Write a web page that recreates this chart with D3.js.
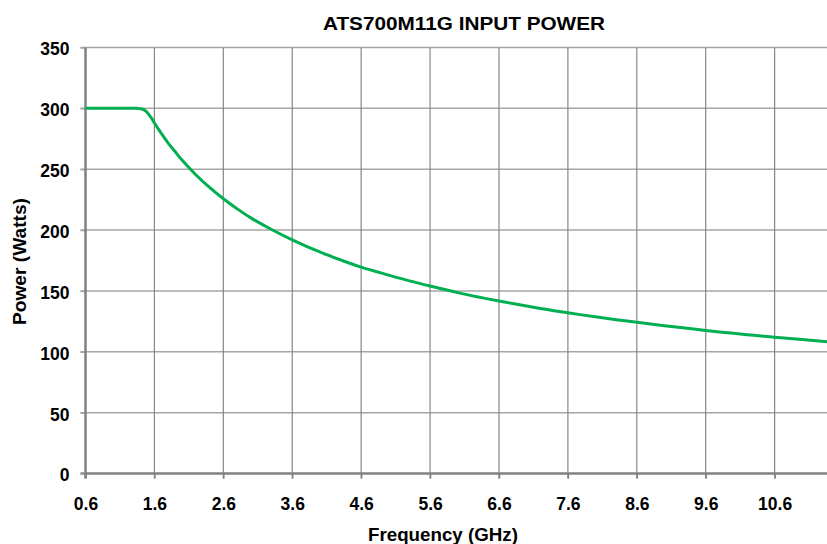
<!DOCTYPE html>
<html>
<head>
<meta charset="utf-8">
<script src="https://cdn.jsdelivr.net/npm/d3@7"></script>
<style>
  html, body { margin: 0; padding: 0; background: #fff; }
  svg { display: block; }
  text { font-family: "Liberation Sans", Arial, sans-serif; font-weight: bold; fill: #000; }
</style>
</head>
<body>
<svg id="chart" width="827" height="544"></svg>
<script>
// ---- data ----
const title = "ATS700M11G INPUT POWER";
const xTitle = "Frequency (GHz)";
const yTitle = "Power (Watts)";
const freqGHz = [0.6, 0.8, 1.0, 1.2, 1.35, 1.42, 1.48, 1.55, 1.6, 1.7, 1.8, 1.9, 2.0, 2.2, 2.4, 2.6, 2.8, 3.0, 3.3, 3.6, 4.0, 4.3, 4.6, 5.0, 5.3, 5.6, 6.0, 6.3, 6.6, 7.0, 7.3, 7.6, 8.0, 8.3, 8.6, 9.0, 9.3, 9.6, 10.0, 10.3, 10.6, 11.0, 11.4];
const powerW  = [300, 300, 300, 300, 300, 299.5, 297.5, 292.5, 288, 279.5, 271.5, 264.5, 257.5, 245.5, 235, 225.7, 217.5, 210, 200.5, 192, 182, 175.5, 169.5, 163, 158.3, 154, 148.6, 145, 141.7, 137.6, 134.7, 132, 128.7, 126.4, 124.2, 121.4, 119.5, 117.5, 115.2, 113.5, 112, 110, 108];
const xTicks = [0.6, 1.6, 2.6, 3.6, 4.6, 5.6, 6.6, 7.6, 8.6, 9.6, 10.6];
const yTicks = [0, 50, 100, 150, 200, 250, 300, 350];
const xDomain = [0.6, 11.36];
const yDomain = [0, 350];

// ---- layout ----
const svg = d3.select("#chart");
const mLeft = 85.5, mRight = 827, mTop = 47.5, mBottom = 473.5;

const x = d3.scaleLinear().domain(xDomain).range([mLeft, mRight]);
const y = d3.scaleLinear().domain(yDomain).range([mBottom, mTop]);

// horizontal gridlines
svg.append("g").selectAll("line").data(yTicks.filter(d => d > 0)).join("line")
  .attr("x1", mLeft - 5).attr("x2", mRight)
  .attr("y1", d => y(d)).attr("y2", d => y(d))
  .attr("stroke", "#a6a6a6").attr("stroke-width", 1.5);

// vertical gridlines
svg.append("g").selectAll("line").data(xTicks.filter(d => d > xDomain[0])).join("line")
  .attr("x1", d => x(d)).attr("x2", d => x(d))
  .attr("y1", mTop).attr("y2", mBottom + 5)
  .attr("stroke", "#878787").attr("stroke-width", 1.2);

// x axis
const xAxis = d3.axisBottom(x).tickValues(xTicks).tickSize(5).tickPadding(19)
  .tickFormat(d => d3.format(".1f")(d));
const gx = svg.append("g").attr("transform", `translate(0,${mBottom})`).call(xAxis);
gx.select(".domain").remove();
gx.selectAll(".tick line").attr("stroke", "#808080").attr("stroke-width", 1.5);
gx.selectAll(".tick text").style("font-size", "17.5px").attr("fill", "#000");
svg.append("line").attr("x1", mLeft - 5).attr("x2", mRight).attr("y1", mBottom).attr("y2", mBottom)
  .attr("stroke", "#808080").attr("stroke-width", 2.5);

// y axis
const yAxis = d3.axisLeft(y).tickValues(yTicks).tickSize(5).tickPadding(11);
const gy = svg.append("g").attr("transform", `translate(${mLeft},0)`).call(yAxis);
gy.select(".domain").remove();
gy.selectAll(".tick line").attr("stroke", "#a6a6a6").attr("stroke-width", 1.5);
gy.selectAll(".tick text").style("font-size", "17.5px").attr("fill", "#000").attr("dy", "0.42em");
svg.append("line").attr("x1", mLeft).attr("x2", mLeft).attr("y1", mTop).attr("y2", mBottom + 5)
  .attr("stroke", "#808080").attr("stroke-width", 2.5);

// data line
const pts = freqGHz.map((f, i) => [f, powerW[i]]);
const line = d3.line().x(d => x(d[0])).y(d => y(d[1])).curve(d3.curveCatmullRom.alpha(0.5));
svg.append("defs").append("clipPath").attr("id", "clip")
  .append("rect").attr("x", mLeft).attr("y", 0).attr("width", mRight - mLeft).attr("height", mBottom);
svg.append("path").datum(pts).attr("d", line)
  .attr("clip-path", "url(#clip)")
  .attr("fill", "none").attr("stroke", "#00b050").attr("stroke-width", 3)
  .attr("stroke-linejoin", "round");

// titles
svg.append("text").attr("x", 464).attr("y", 30).attr("text-anchor", "middle")
  .style("font-family", "'Liberation Sans Narrow', 'Liberation Sans', Arial, sans-serif")
  .style("font-size", "18.5px").attr("textLength", 282).attr("lengthAdjust", "spacingAndGlyphs")
  .text(title);
svg.append("text").attr("x", 443).attr("y", 541).attr("text-anchor", "middle")
  .style("font-size", "17.5px").attr("textLength", 150).attr("lengthAdjust", "spacingAndGlyphs")
  .text(xTitle);
svg.append("text").attr("transform", "translate(26,261.5) rotate(-90)").attr("text-anchor", "middle")
  .style("font-size", "17.5px").attr("textLength", 127).attr("lengthAdjust", "spacingAndGlyphs")
  .text(yTitle);
</script>
</body>
</html>
